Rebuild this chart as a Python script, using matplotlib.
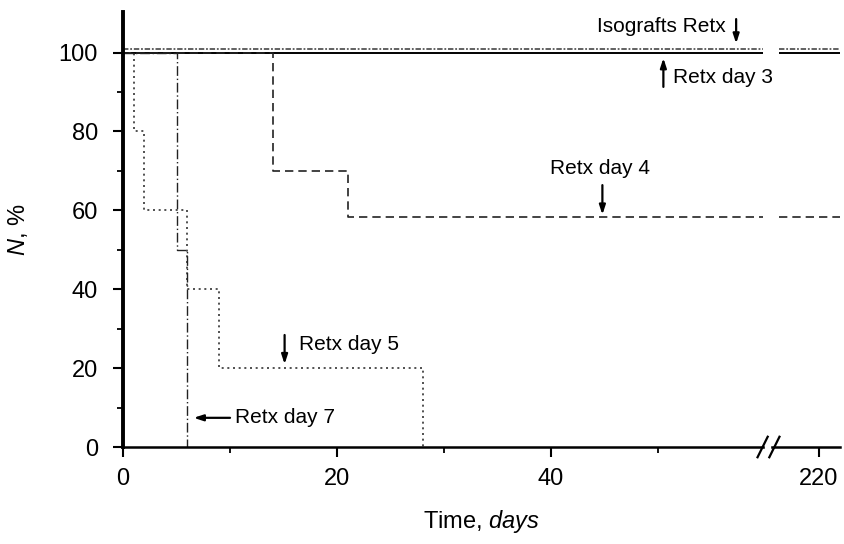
import numpy as np
import matplotlib
matplotlib.use("Agg")
import matplotlib.pyplot as plt

plt.rcParams['font.family'] = ['Liberation Sans', 'DejaVu Sans']
plt.rcParams['mathtext.fontset'] = 'custom'
plt.rcParams['mathtext.rm'] = 'Liberation Sans'
plt.rcParams['mathtext.it'] = 'Liberation Sans:italic'

# survival data (days, % surviving)
day5_days = [0, 1, 2, 6, 9, 28]
day5_surv = [100, 80, 60, 40, 20, 0]

day7_days = [0, 5, 6]
day7_surv = [100, 50, 0]

day4_days = [0, 14, 21, 222]
day4_surv = [100, 70, 58.3, 58.3]

day3_days = [0, 222]
day3_surv = [100, 100]

iso_days = [0, 222]
iso_surv = [100.9, 100.9]

x_ticks = [0, 20, 40, 220]
x_minor = [10, 30, 50]

# broken x axis: everything past the break is shifted left
SHIFT = 155
GAP_LO, GAP_HI = 59.8, 61.3   # gap in plot coords


def to_plot(d):
    d = np.asarray(d, dtype=float)
    return np.where(d <= 60, d, d - SHIFT)


def split_step(days, surv):
    # build step coordinates, then cut them at the axis break
    xs, ys = [], []
    for i in range(len(days)):
        if i > 0:
            xs.append(days[i]); ys.append(surv[i - 1])
        xs.append(days[i]); ys.append(surv[i])
    xs = to_plot(xs)
    left_x, left_y, right_x, right_y = [], [], [], []
    for j in range(len(xs)):
        if xs[j] <= GAP_LO:
            left_x.append(xs[j]); left_y.append(ys[j])
        elif xs[j] >= GAP_HI:
            right_x.append(xs[j]); right_y.append(ys[j])
    if right_x:
        lvl = left_y[-1]
        left_x.append(GAP_LO); left_y.append(lvl)
        right_x.insert(0, GAP_HI); right_y.insert(0, lvl)
    return (left_x, left_y), (right_x, right_y)


fig = plt.figure(figsize=(8.45, 5.44), dpi=100)
ax = fig.add_axes([0.1456, 0.1783, 0.994 - 0.1456, 0.978 - 0.1783])

styles = [
    (day3_days, day3_surv, dict(color='black', lw=1.4, ls='-')),
    (iso_days, iso_surv, dict(color='#555555', lw=1.3, ls=(0, (3, 1, 1, 1)))),
    (day4_days, day4_surv, dict(color='#222222', lw=1.2, ls=(0, (5, 3)))),
    (day5_days, day5_surv, dict(color='#333333', lw=1.2, ls=(0, (1.2, 2.2)))),
    (day7_days, day7_surv, dict(color='#222222', lw=1.0, ls=(0, (7, 2, 1, 2)))),
]
for d, s, kw in styles:
    for seg_x, seg_y in split_step(d, s):
        if seg_x:
            ax.plot(seg_x, seg_y, solid_capstyle='butt', dash_capstyle='butt', **kw)

ax.set_xlim(0, 67)
ax.set_ylim(0, 110.3)

ax.set_xticks(to_plot(x_ticks))
ax.set_xticklabels([str(t) for t in x_ticks])
ax.set_xticks(to_plot(x_minor), minor=True)
ax.set_yticks(np.arange(0, 101, 20))
ax.set_yticks(np.arange(10, 100, 20), minor=True)

ax.spines['top'].set_visible(False)
ax.spines['right'].set_visible(False)
ax.spines['left'].set_linewidth(2.8)
ax.spines['bottom'].set_linewidth(1.8)
ax.tick_params(which='major', direction='out', length=7, width=1.5,
               labelsize=17, color='black')
ax.tick_params(axis='y', which='major', pad=11)
ax.tick_params(axis='x', which='major', pad=8)
ax.tick_params(which='minor', direction='out', length=4, width=1.3)

# break marks on the x axis
ax.add_patch(plt.Rectangle((60.0, -1.2), 0.5, 2.4, color='white',
                           clip_on=False, zorder=5))
for x0 in (59.3, 60.4):
    ax.plot([x0, x0 + 0.95], [-2.6, 2.6], color='black', lw=1.6,
            clip_on=False, zorder=6)

ax.set_xlabel('Time, $\\it{days}$', fontsize=17)
ax.xaxis.set_label_coords(0.5, -0.172)
ax.xaxis.label.set_va('center')
ax.set_ylabel('$\\it{N}$, %', fontsize=17)
ax.yaxis.set_label_coords(-0.146, 0.5)
ax.yaxis.label.set_va('center')

arrow = dict(arrowstyle='-|>,head_length=0.55,head_width=0.18',
             color='black', lw=1.6, shrinkA=0, shrinkB=0)
fs = 15

ax.text(56.3, 106.5, 'Isografts Retx', ha='right', va='center', fontsize=fs)
ax.annotate('', xy=(57.3, 102.3), xytext=(57.3, 108.5), arrowprops=arrow)

ax.annotate('', xy=(50.5, 98.6), xytext=(50.5, 91.3), arrowprops=arrow)
ax.text(51.4, 93.8, 'Retx day 3', ha='left', va='center', fontsize=fs)

ax.text(44.6, 70.5, 'Retx day 4', ha='center', va='center', fontsize=fs)
ax.annotate('', xy=(44.8, 58.9), xytext=(44.8, 66.4), arrowprops=arrow)

ax.annotate('', xy=(15.1, 21.0), xytext=(15.1, 28.4), arrowprops=arrow)
ax.text(16.4, 25.9, 'Retx day 5', ha='left', va='center', fontsize=fs)

ax.annotate('', xy=(6.6, 7.4), xytext=(10.0, 7.4), arrowprops=arrow)
ax.text(10.5, 7.4, 'Retx day 7', ha='left', va='center', fontsize=fs)

fig.savefig('out.png', dpi=100)
